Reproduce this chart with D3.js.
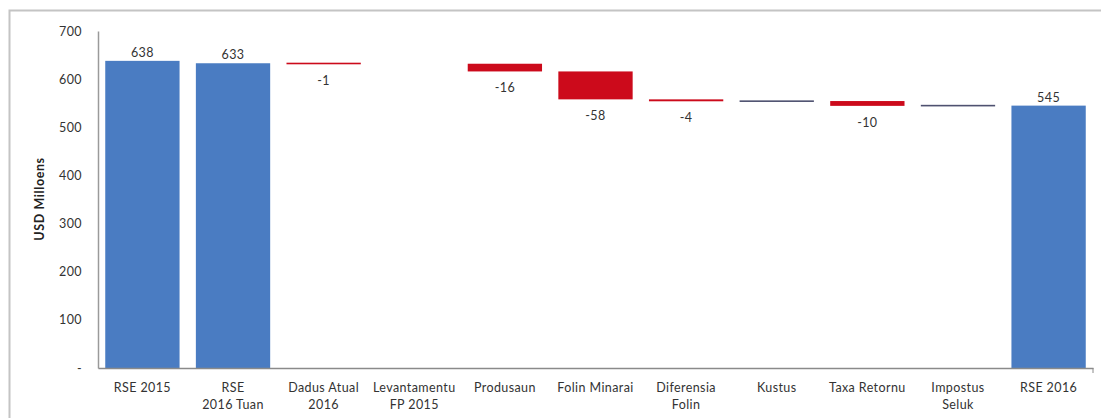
<!DOCTYPE html>
<html><head><meta charset="utf-8">
<script src="https://cdn.jsdelivr.net/npm/d3@7"></script>
<style>body{margin:0;background:#fff;} svg{display:block;}</style>
</head><body>
<svg id="c" width="1101" height="418"></svg>
<script>
const categories = ["RSE 2015", "RSE\n2016 Tuan", "Dadus Atual\n2016", "Levantamentu\nFP 2015", "Produsaun", "Folin Minarai", "Diferensia\nFolin", "Kustus", "Taxa Retornu", "Impostus\nSeluk", "RSE 2016"];
const values = [638, 633, -1, 0, -16, -58, -4, 0.5, -10, 1, 545];
const kinds = ["total", "total", "delta", "delta", "delta", "delta", "delta", "delta", "delta", "delta", "total"];
const valueLabels = ["638", "633", "-1", "", "-16", "-58", "-4", "", "-10", "", "545"];
const yTicks = [0, 100, 200, 300, 400, 500, 600, 700];
const yTitle = "USD Milloens";

const svg = d3.select("#c");
const font = "Lato, 'Open Sans', sans-serif";
const mLeft = 98, mRight = 1093, mTop = 31, mBottom = 368;

// frame
svg.append("path").attr("d", "M9.5,418 L9.5,10.5 L1101,10.5").attr("fill", "none").attr("stroke", "#c4c4c4").attr("stroke-width", 2);

const x = d3.scaleBand().domain(categories.map((d, i) => i)).range([mLeft, mRight]).paddingInner(0.18).paddingOuter(0.08);
const y = d3.scaleLinear().domain([0, 700]).range([mBottom, mTop]);

// compute waterfall
let running = 0;
const bars = values.map((v, i) => {
  let y0, y1;
  if (kinds[i] === "total") { y0 = 0; y1 = v; running = v; }
  else { y0 = running; y1 = running + v; running = y1; }
  return { i, v, y0, y1, kind: kinds[i], label: valueLabels[i] };
});

function color(b) {
  if (b.kind === "total") return "#4a7cc2";
  return b.v < 0 ? "#cc0a1b" : "#4e5170";
}

const g = svg.append("g");
bars.filter(b => b.v !== 0).forEach(b => {
  const yt = y(Math.max(b.y0, b.y1)), yb = y(Math.min(b.y0, b.y1));
  const thin = yb - yt < 1.6;
  g.append("rect").attr("x", x(b.i)).attr("width", x.bandwidth())
    .attr("y", thin ? (yt + yb) / 2 - 0.8 : yt).attr("height", thin ? 1.6 : yb - yt)
    .attr("fill", color(b));
});

// value labels
bars.filter(b => b.label).forEach(b => {
  const cx = x(b.i) + x.bandwidth() / 2;
  let ty;
  if (b.kind === "total") ty = y(b.y1) - 4;
  else ty = y(Math.min(b.y0, b.y1)) + 21;
  g.append("text").attr("x", cx).attr("y", ty).attr("text-anchor", "middle")
    .attr("font-family", font).attr("font-size", 12.5).attr("letter-spacing", 0.4).attr("fill", "#333").text(b.label);
});

// y axis
const ya = svg.append("g").attr("transform", `translate(${mLeft},0)`)
  .call(d3.axisLeft(y).tickValues(yTicks).tickSize(0).tickPadding(16).tickFormat(d => d === 0 ? "-" : d));
ya.select(".domain").attr("stroke", "#9a9a9a").attr("stroke-width", 1.5);
ya.selectAll("text").attr("font-family", font).attr("font-size", 12.5).attr("letter-spacing", 0.4).attr("fill", "#333");

// x axis
const xa = svg.append("g").attr("transform", `translate(0,${mBottom})`)
  .call(d3.axisBottom(x).tickSize(0).tickFormat(""));
xa.select(".domain").attr("stroke", "#8a8a8a").attr("stroke-width", 1.5);
xa.selectAll(".tick").remove();
svg.append("line").attr("x1", mRight).attr("x2", mRight).attr("y1", mBottom).attr("y2", mBottom + 5).attr("stroke", "#8a8a8a");

categories.forEach((c, i) => {
  const lines = c.split("\n");
  const t = svg.append("text").attr("x", x(i) + x.bandwidth() / 2).attr("y", 392)
    .attr("text-anchor", "middle").attr("font-family", font).attr("font-size", 12.5).attr("letter-spacing", 0.4).attr("fill", "#333");
  lines.forEach((l, k) => t.append("tspan").attr("x", x(i) + x.bandwidth() / 2).attr("dy", k === 0 ? 0 : 17).text(l));
});

// y title
svg.append("text").attr("transform", "translate(44,199) rotate(-90)").attr("text-anchor", "middle")
  .attr("font-family", font).attr("font-size", 12.5).attr("letter-spacing", 0.6).attr("font-weight", "bold").attr("fill", "#222").text(yTitle);
</script>
</body></html>
